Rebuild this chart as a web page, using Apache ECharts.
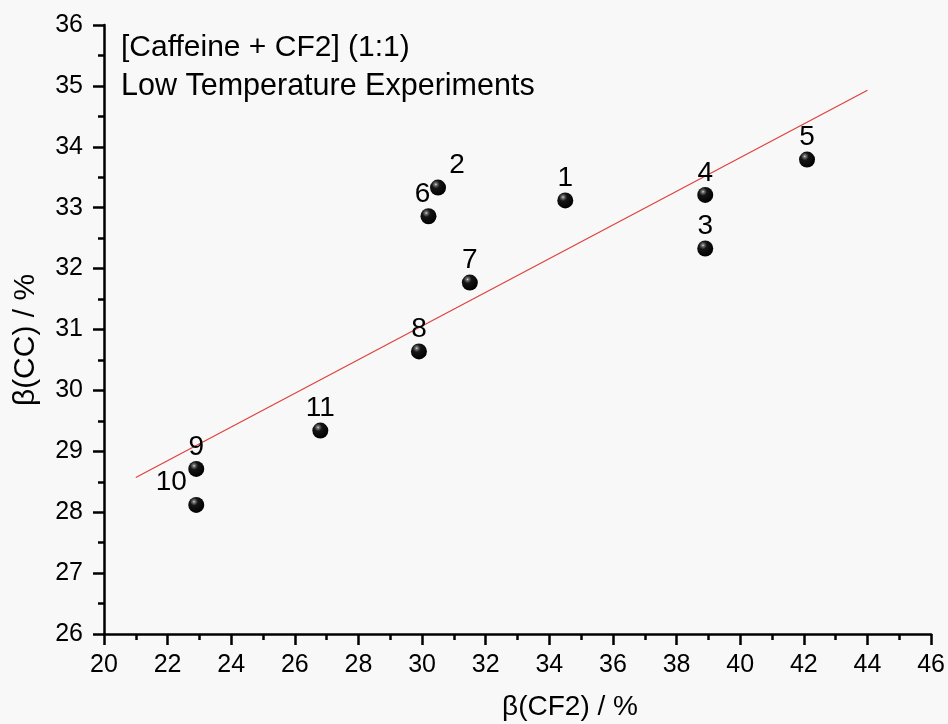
<!DOCTYPE html>
<html>
<head>
<meta charset="utf-8">
<title>Caffeine + CF2 low temperature experiments</title>
<script src="https://cdn.jsdelivr.net/npm/echarts@6/dist/echarts.min.js"></script>
<style>
  html, body { margin: 0; padding: 0; background: #f8f8f8; }
  #chart { width: 948px; height: 724px; }
</style>
</head>
<body>
<div id="chart"></div>
<script>
// Experiment numbers and measured β values (%)
const expIds = ['1', '2', '3', '4', '5', '6', '7', '8', '9', '10', '11'];
const betaCF2 = [34.5, 30.5, 38.9, 38.9, 42.1, 30.2, 31.5, 29.9, 22.9, 22.9, 26.8];
const betaCC  = [33.12, 33.33, 32.33, 33.21, 33.79, 32.86, 31.77, 30.64, 28.71, 28.12, 29.34];

// Linear fit endpoints
const fitX = [21, 44];
const fitY = [28.57, 34.93];

// Axis ticks
const xTicks = [20, 22, 24, 26, 28, 30, 32, 34, 36, 38, 40, 42, 44, 46];
const yTicks = [26, 27, 28, 29, 30, 31, 32, 33, 34, 35, 36];

const titleLines = ['[Caffeine + CF2] (1:1)', 'Low Temperature Experiments'];
const xName = 'β(CF2) / %';
const yName = 'β(CC) / %';

// Label placement tweaks for crowded points
const labelShift = { '2': [19, -22], '6': [-6, -22], '10': [-25, -23] };

const FONT = '"Liberation Sans", Arial, sans-serif';
const INK = '#000000';

const points = expIds.map((id, i) => ({
  value: [betaCF2[i], betaCC[i]],
  name: id,
  label: { offset: labelShift[id] || [0, -22] }
}));

// Glossy black ball with a small highlight at the upper left
const sphere = new echarts.graphic.RadialGradient(0.36, 0.3, 0.72, [
  { offset: 0, color: '#e0e0e0' },
  { offset: 0.1, color: '#777777' },
  { offset: 0.34, color: '#151515' },
  { offset: 1, color: '#000000' }
]);

const axisCommon = {
  axisLine: { show: true, lineStyle: { color: INK, width: 2.5 } },
  axisTick: { show: true, inside: false, length: 11, lineStyle: { color: INK, width: 2.5 } },
  minorTick: { show: true, splitNumber: 2, length: 6, lineStyle: { color: INK, width: 2.5 } },
  splitLine: { show: false },
  minorSplitLine: { show: false }
};

const chart = echarts.init(document.getElementById('chart'), null, { renderer: 'canvas' });

chart.setOption({
  backgroundColor: '#f8f8f8',
  animation: false,
  grid: { left: 104, right: 15, top: 25, bottom: 90, containLabel: false },
  xAxis: Object.assign({}, axisCommon, {
    type: 'value',
    min: xTicks[0],
    max: xTicks[xTicks.length - 1],
    interval: xTicks[1] - xTicks[0],
    axisLabel: { fontFamily: FONT, fontSize: 25, color: INK, margin: 19 }
  }),
  yAxis: Object.assign({}, axisCommon, {
    type: 'value',
    min: yTicks[0],
    max: yTicks[yTicks.length - 1],
    interval: yTicks[1] - yTicks[0],
    axisLabel: { fontFamily: FONT, fontSize: 25, color: INK, margin: 21 }
  }),
  graphic: titleLines.map((t, i) => ({
    type: 'text',
    x: 121,
    y: 48 + i * 38.5,
    style: { text: t, font: (i === 0 ? 30 : 30.5) + 'px ' + FONT, fill: INK, verticalAlign: 'middle' }
  })).concat([
    {
      type: 'text',
      x: 570,
      y: 707,
      style: { text: xName, font: '28px ' + FONT, fill: INK, align: 'center', verticalAlign: 'middle' }
    },
    {
      type: 'text',
      x: 26,
      y: 340,
      rotation: Math.PI / 2,
      style: { text: yName, font: '30px ' + FONT, fill: INK, align: 'center', verticalAlign: 'middle' }
    }
  ]),
  series: [
    {
      type: 'line',
      data: fitX.map((x, i) => [x, fitY[i]]),
      showSymbol: false,
      lineStyle: { color: '#e0403c', width: 1.2 },
      silent: true,
      z: 1
    },
    {
      type: 'scatter',
      data: points,
      symbol: 'circle',
      symbolSize: 16,
      itemStyle: { color: sphere, opacity: 1 },
      label: {
        show: true,
        position: 'inside',
        formatter: '{b}',
        fontFamily: FONT,
        fontSize: 28,
        color: INK,
        opacity: 1,
        textBorderWidth: 0,
        textShadowBlur: 0
      },
      z: 3
    }
  ]
});
</script>
</body>
</html>
